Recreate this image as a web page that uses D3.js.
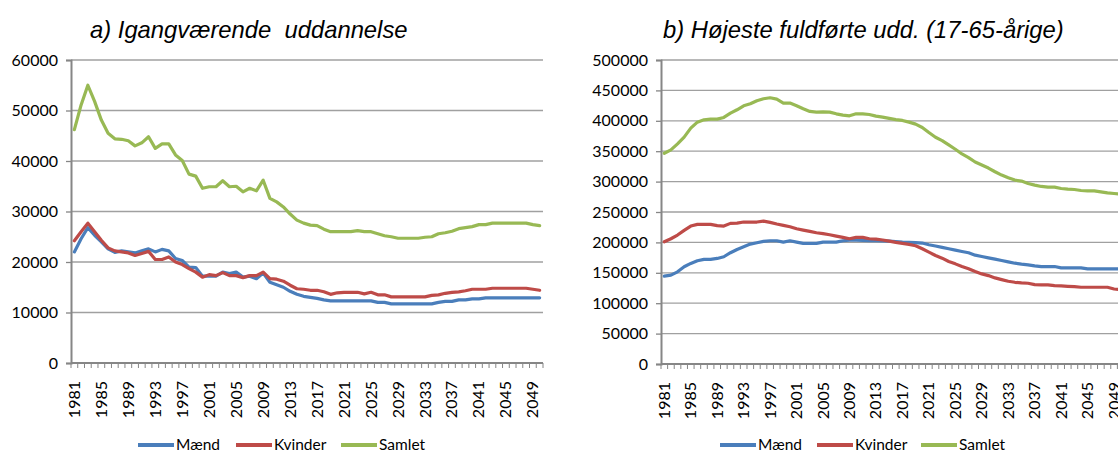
<!DOCTYPE html>
<html>
<head>
<meta charset="utf-8">
<script src="https://cdnjs.cloudflare.com/ajax/libs/d3/7.8.5/d3.min.js"></script>
<style>
  body { margin: 0; background: #fff; }
  svg { display: block; }
  .title { font-family: 'Liberation Sans', Arial, sans-serif; font-style: italic; font-size: 23.8px; white-space: pre; }
  .tick-label { font-family: Lato, 'Open Sans', sans-serif; font-size: 16px; fill: #000; }
  .legend-label { font-family: Lato, 'Open Sans', sans-serif; font-size: 15.5px; fill: #000; }
</style>
</head>
<body>
<div id="plot"></div>
<script>
var years = d3.range(1981, 2051);

var seriesNames = ['Mænd', 'Kvinder', 'Samlet'];
var seriesColors = ['#4a7ebb', '#be4b48', '#98b954'];

// a) Igangværende uddannelse
var uddMaend = [
    22000, 24600, 26800, 25300, 24000, 22600, 21900, 22200, 22000, 21800,
    22200, 22600, 22000, 22500, 22200, 20700, 20300, 19000, 18900, 17200,
    17200, 17200, 18000, 17700, 18000, 17000, 17200, 16700, 17800, 16000,
    15500, 15000, 14200, 13600, 13200, 13000, 12800, 12500, 12300, 12300,
    12300, 12300, 12300, 12300, 12300, 12000, 12000, 11700, 11700, 11700,
    11700, 11700, 11700, 11700, 12000, 12200, 12200, 12500, 12500, 12700,
    12700, 12900, 12900, 12900, 12900, 12900, 12900, 12900, 12900, 12900
];
var uddKvinder = [
    24200, 26000, 27700, 26000, 24300, 22800, 22200, 22000, 21800, 21300,
    21700, 22100, 20500, 20500, 21000, 20000, 19500, 18700, 18000, 17000,
    17500, 17300, 17900, 17300, 17300, 16900, 17300, 17300, 18000, 16700,
    16600, 16200, 15400, 14700, 14600, 14400, 14400, 14100, 13600, 13900,
    14000, 14000, 14000, 13700, 14000, 13500, 13500, 13100, 13100, 13100,
    13100, 13100, 13100, 13400, 13500, 13800, 14000, 14100, 14300, 14600,
    14600, 14600, 14800, 14800, 14800, 14800, 14800, 14800, 14600, 14400
];
var uddSamlet = [
    46200, 51100, 55000, 51800, 48100, 45500, 44400, 44300, 44000, 43000,
    43600, 44800, 42500, 43400, 43400, 41200, 40100, 37400, 37000, 34600,
    34900, 34900, 36100, 34900, 35000, 33900, 34600, 34100, 36200, 32600,
    31900, 30900, 29500, 28300, 27700, 27300, 27200, 26500, 26000, 26000,
    26000, 26000, 26200, 26000, 26000, 25600, 25200, 25000, 24700, 24700,
    24700, 24700, 24900, 25000, 25600, 25800, 26100, 26600, 26800, 27000,
    27400, 27400, 27700, 27700, 27700, 27700, 27700, 27700, 27400, 27200
];
var uddTicks = [0, 10000, 20000, 30000, 40000, 50000, 60000];

// b) Højeste fuldførte udd. (17-65-årige)
var fuldMaend = [
    144500, 146100, 151600, 159900, 165400, 169800, 172000, 172000, 173600, 176400,
    183000, 188400, 192800, 197200, 199400, 201600, 202700, 202700, 200500, 202700,
    200500, 198300, 198300, 198300, 200500, 200500, 200500, 202700, 203800, 203800,
    203300, 202700, 202700, 202500, 202000, 201500, 200600, 200000, 199500, 198900,
    196200, 194000, 191800, 189500, 187300, 185100, 182900, 179000, 176800, 174600,
    172400, 170200, 168000, 165800, 164200, 163100, 161400, 160300, 160300, 160300,
    158100, 158100, 158100, 158100, 156500, 156500, 156500, 156500, 156500, 156500
];
var fuldKvinder = [
    201100, 206000, 212100, 219800, 226900, 229600, 229600, 229600, 227500, 226900,
    231300, 231800, 233500, 233500, 233500, 235100, 233000, 230200, 228000, 225800,
    222500, 220300, 218100, 215900, 214300, 212600, 210400, 208200, 206000, 208200,
    208200, 206000, 205500, 204000, 202000, 200000, 198400, 196700, 194500, 189500,
    184000, 178500, 174100, 168600, 164700, 160300, 156500, 152000, 148200, 145400,
    141600, 138800, 136100, 134400, 133300, 132800, 130600, 130000, 130000, 128900,
    128400, 127800, 127300, 126200, 126200, 126200, 126200, 126200, 123400, 122500
];
var fuldSamlet = [
    346700, 352200, 362100, 373100, 387900, 397800, 401600, 402700, 402700, 405500,
    412600, 418100, 424700, 428000, 433000, 436300, 437900, 435700, 429100, 429100,
    424700, 419800, 415400, 414300, 414800, 414300, 411500, 409300, 408200, 411500,
    411500, 410400, 407700, 406000, 404000, 402000, 400600, 397800, 394500, 389000,
    380700, 373000, 367500, 360300, 353200, 345500, 339400, 332200, 327300, 322300,
    316200, 310700, 306300, 302500, 300800, 296900, 294200, 292000, 290900, 290900,
    288700, 287600, 287000, 285400, 284800, 284800, 283200, 281500, 280400, 279500
];
var fuldTicks = [0, 50000, 100000, 150000, 200000, 250000, 300000, 350000, 400000, 450000, 500000];

var svg = d3.select('#plot')
    .append('svg')
    .attr('width', 1118)
    .attr('height', 453);

function drawPanel(opts) {
    var g = svg.append('g');

    var x = d3.scaleBand()
        .domain(years)
        .range([opts.left, opts.right])
        .padding(0);

    var y = d3.scaleLinear()
        .domain([0, opts.max])
        .range([opts.bottom, opts.top]);

    // gridlines
    g.selectAll('.grid')
        .data(opts.ticks.slice(1))
        .enter()
        .append('line')
        .attr('x1', opts.left)
        .attr('x2', opts.right)
        .attr('y1', function (d) { return y(d); })
        .attr('y2', function (d) { return y(d); })
        .attr('stroke', '#a0a0a0')
        .attr('stroke-width', 1.3);

    // y axis
    var yAxis = d3.axisLeft(y)
        .tickValues(opts.ticks)
        .tickSize(5)
        .tickPadding(8)
        .tickFormat(d3.format('d'));
    var ya = g.append('g')
        .attr('transform', 'translate(' + opts.left + ',0)')
        .call(yAxis);
    ya.select('.domain').attr('stroke', '#868686').attr('stroke-width', 2);
    ya.selectAll('.tick line').attr('stroke', '#868686').attr('stroke-width', 1.3);
    ya.selectAll('.tick text').attr('class', 'tick-label').attr('font-family', null).attr('font-size', null);

    // x axis: ticks between categories, labels every 4th year
    var bounds = years.map(function (d) { return x(d); }).concat([opts.right]);
    g.selectAll('.xtick')
        .data(bounds)
        .enter()
        .append('line')
        .attr('x1', function (d) { return d; })
        .attr('x2', function (d) { return d; })
        .attr('y1', opts.bottom)
        .attr('y2', opts.bottom + 5)
        .attr('stroke', '#868686')
        .attr('stroke-width', 1);
    g.append('line')
        .attr('x1', opts.left)
        .attr('x2', opts.right)
        .attr('y1', opts.bottom)
        .attr('y2', opts.bottom)
        .attr('stroke', '#868686')
        .attr('stroke-width', 2);

    g.selectAll('.xlabel')
        .data(years.filter(function (d, i) { return i % 4 === 0; }))
        .enter()
        .append('text')
        .attr('class', 'tick-label')
        .attr('transform', function (d) {
            return 'translate(' + (x(d) + x.bandwidth() / 2 + 5.5) + ',' + (opts.bottom + 18) + ') rotate(-90)';
        })
        .attr('text-anchor', 'end')
        .text(function (d) { return d; });

    // lines
    var line = d3.line()
        .x(function (d, i) { return x(years[i]) + x.bandwidth() / 2; })
        .y(function (d) { return y(d); });

    opts.series.forEach(function (s, k) {
        g.append('path')
            .attr('d', line(s))
            .attr('fill', 'none')
            .attr('stroke', seriesColors[k])
            .attr('stroke-width', 3.2)
            .attr('stroke-linejoin', 'round')
            .attr('stroke-linecap', 'round');
    });

    // title
    g.append('text')
        .attr('class', 'title')
        .attr('x', opts.titleX)
        .attr('y', 38)
        .text(opts.title);

    // legend
    var lg = g.append('g');
    opts.legendX.forEach(function (lx, k) {
        lg.append('line')
            .attr('x1', lx)
            .attr('x2', lx + 36)
            .attr('y1', 445)
            .attr('y2', 445)
            .attr('stroke', seriesColors[k])
            .attr('stroke-width', 4);
        lg.append('text')
            .attr('class', 'legend-label')
            .attr('x', lx + 38)
            .attr('y', 450)
            .text(seriesNames[k]);
    });
}

drawPanel({
    left: 71, right: 543, top: 60, bottom: 363,
    max: 60000, ticks: uddTicks,
    series: [uddMaend, uddKvinder, uddSamlet],
    title: 'a) Igangværende  uddannelse', titleX: 90,
    legendX: [138, 236, 341]
});

drawPanel({
    left: 661, right: 1124, top: 60, bottom: 364,
    max: 500000, ticks: fuldTicks,
    series: [fuldMaend, fuldKvinder, fuldSamlet],
    title: 'b) Højeste fuldførte udd. (17-65-årige)', titleX: 663,
    legendX: [720, 817, 921]
});
</script>
</body>
</html>
